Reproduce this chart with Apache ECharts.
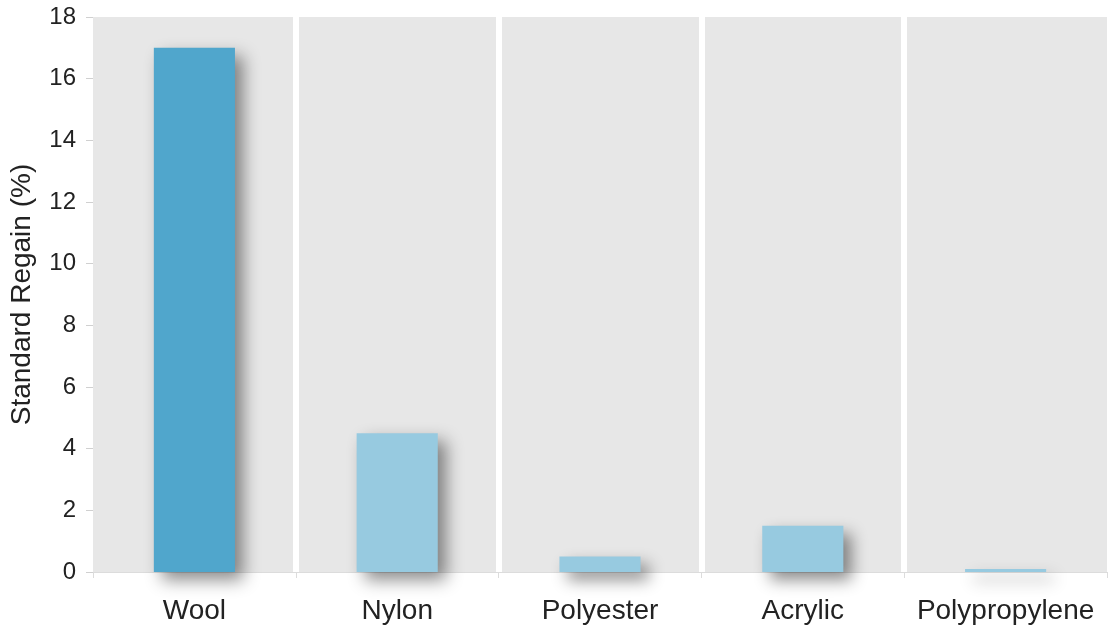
<!DOCTYPE html>
<html>
<head>
<meta charset="utf-8">
<script src="https://cdn.jsdelivr.net/npm/echarts@6/dist/echarts.min.js"></script>
<style>
  html, body { margin: 0; padding: 0; background: #fff; }
  #chart { width: 1113px; height: 632px; }
</style>
</head>
<body>
<div id="chart"></div>
<script>
// Standard moisture regain of common textile fibres
const categories = ['Wool', 'Nylon', 'Polyester', 'Acrylic', 'Polypropylene'];
const regainValues = [17, 4.5, 0.5, 1.5, 0.1];
const barColors = ['#50a6cc', '#97cae0', '#97cae0', '#97cae0', '#97cae0'];
const yTicks = { min: 0, max: 18, interval: 2 };
const yAxisTitle = 'Standard Regain (%)';

const font = 'Liberation Sans, Arial, sans-serif';
const chart = echarts.init(document.getElementById('chart'));

chart.setOption({
  animation: false,
  grid: { left: 93, right: 6, top: 17, bottom: 60 },
  xAxis: {
    type: 'category',
    data: categories,
    boundaryGap: true,
    axisLine: { show: true, lineStyle: { color: '#dcdcdc', width: 1 } },
    axisTick: { show: true, interval: 0, length: 6, lineStyle: { color: '#dcdcdc' } },
    axisLabel: { interval: 0, color: '#222', fontSize: 28, fontFamily: font, margin: 25 },
    splitArea: { show: true, interval: 0, areaStyle: { color: ['#e7e7e7'] } },
    splitLine: {
      show: true,
      interval: 0,
      showMinLine: false,
      showMaxLine: false,
      lineStyle: { color: '#ffffff', width: 6 }
    }
  },
  yAxis: {
    type: 'value',
    min: yTicks.min,
    max: yTicks.max,
    interval: yTicks.interval,
    name: yAxisTitle,
    nameLocation: 'middle',
    nameGap: 57,
    nameTextStyle: { color: '#222', fontSize: 28, fontFamily: font },
    axisLine: { show: false },
    axisTick: { show: true, length: 7, lineStyle: { color: '#d0d0d0' } },
    axisLabel: { color: '#222', fontSize: 24, fontFamily: font, margin: 17 },
    splitLine: { show: false }
  },
  series: [{
    type: 'bar',
    data: regainValues.map((v, i) => ({
      value: v,
      itemStyle: { color: barColors[i] }
    })),
    barWidth: '40%',
    itemStyle: {
      shadowColor: 'rgba(0,0,0,0.45)',
      shadowBlur: 16,
      shadowOffsetX: 8,
      shadowOffsetY: 8
    },
    z: 3
  }]
});
</script>
</body>
</html>
